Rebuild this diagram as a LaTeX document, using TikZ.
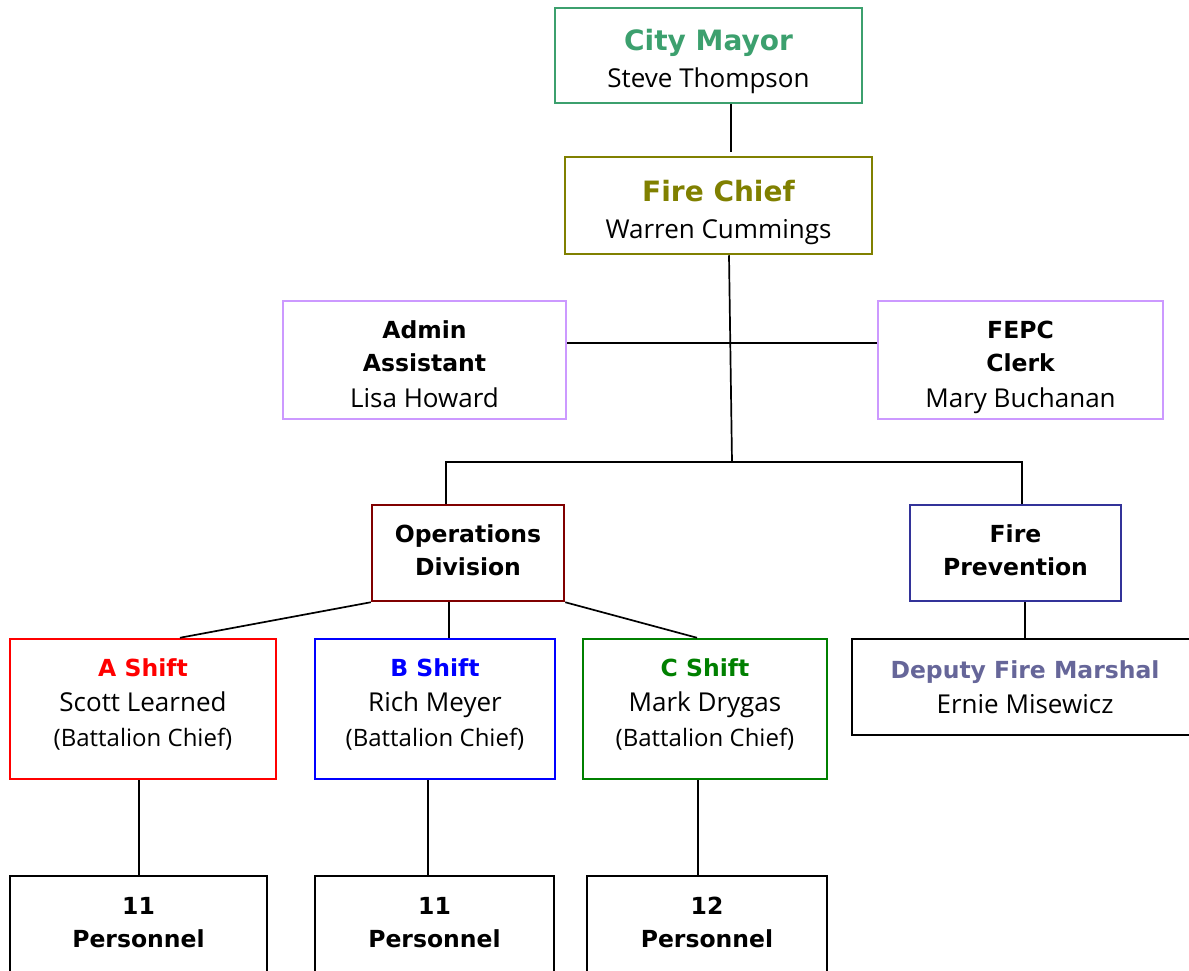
\documentclass[tikz,border=0pt]{standalone}
\usepackage{fontspec}
\setmainfont{DejaVu Sans}
\newfontfamily\namefont{Open Sans}
\definecolor{mayorgreen}{RGB}{60,160,110}
\definecolor{olivec}{RGB}{128,128,0}
\definecolor{lilac}{RGB}{204,153,255}
\definecolor{darkredc}{RGB}{128,0,0}
\definecolor{navyc}{RGB}{51,51,153}
\definecolor{deputyc}{RGB}{102,102,153}
\definecolor{cgreen}{RGB}{0,128,0}
\tikzset{
  box/.style={draw, line width=2.5pt, rectangle, inner sep=0pt, fill=white},
  lbl/.style={align=center, inner sep=0pt},
  conn/.style={line width=1.7pt, black},
  bigf/.style={font=\fontsize{28}{37}\selectfont\bfseries},
  midf/.style={font=\fontsize{23.5}{33}\selectfont\bfseries},
  shiftf/.style={font=\fontsize{23.5}{35}\selectfont\bfseries},
}
\newcommand{\nm}[1]{{\namefont\mdseries\fontsize{26}{33}\selectfont #1}}
\newcommand{\bc}[1]{{\namefont\mdseries\fontsize{24}{35}\selectfont #1}}
\begin{document}
\begin{tikzpicture}[x=1pt,y=-1pt]
\useasboundingbox (0,0) rectangle (1189,970);
\fill[white] (0,0) rectangle (1189,970);
% boxes
\node[box, draw=mayorgreen, minimum width=307pt, minimum height=95pt] (mayor) at (708.5,55.5) {};
\node[box, draw=olivec, minimum width=307pt, minimum height=97pt] (chief) at (718.5,205.5) {};
\node[box, draw=lilac, minimum width=283pt, minimum height=118pt] (admin) at (424.5,360) {};
\node[box, draw=lilac, minimum width=285pt, minimum height=118pt] (fepc) at (1020.5,360) {};
\node[box, draw=darkredc, minimum width=192pt, minimum height=96pt] (ops) at (468,553) {};
\node[box, draw=navyc, minimum width=211pt, minimum height=96pt] (prev) at (1015.5,553) {};
\node[box, draw=red, minimum width=266pt, minimum height=140pt] (ashift) at (143,709) {};
\node[box, draw=blue, minimum width=240pt, minimum height=140pt] (bshift) at (435,709) {};
\node[box, draw=cgreen, minimum width=244pt, minimum height=140pt] (cshift) at (705,709) {};
\node[box, draw=black, minimum width=346pt, minimum height=96pt] (deputy) at (1025,687) {};
\node[box, draw=black, minimum width=257pt, minimum height=106pt] (p1) at (138.5,929) {};
\node[box, draw=black, minimum width=239pt, minimum height=106pt] (p2) at (434.5,929) {};
\node[box, draw=black, minimum width=240pt, minimum height=106pt] (p3) at (707,929) {};
% texts
\node[lbl, bigf] (mayorT) at ([yshift=-5.5pt]mayor.center)
  {\textcolor{mayorgreen}{City Mayor}\\ \nm{Steve Thompson}};
\node[lbl, bigf] (chiefT) at ([yshift=-6.5pt]chief.center)
  {\textcolor{olivec}{Fire Chief}\\ \nm{Warren Cummings}};
\node[lbl, midf] (adminT) at ([yshift=-4.5pt]admin.center)
  {Admin\\ Assistant\\[3pt] \nm{Lisa Howard}};
\node[lbl, midf] (fepcT) at ([yshift=-7pt]fepc.center)
  {FEPC\\ Clerk\\[3pt] \nm{Mary Buchanan}};
\node[lbl, midf] (opsT) at ([yshift=3pt]ops.center) {Operations\\ Division};
\node[lbl, midf] (prevT) at ([yshift=3pt]prev.center) {Fire\\ Prevention};
\node[lbl, shiftf] (ashiftT) at ([yshift=5pt]ashift.center)
  {\textcolor{red}{A Shift}\\ \nm{Scott Learned}\\ \bc{(Battalion Chief)}};
\node[lbl, shiftf] (bshiftT) at ([yshift=5pt]bshift.center)
  {\textcolor{blue}{B Shift}\\ \nm{Rich Meyer}\\ \bc{(Battalion Chief)}};
\node[lbl, shiftf] (cshiftT) at ([yshift=5pt]cshift.center)
  {\textcolor{cgreen}{C Shift}\\ \nm{Mark Drygas}\\ \bc{(Battalion Chief)}};
\node[lbl, shiftf] (deputyT) at ([yshift=0pt]deputy.center)
  {\textcolor{deputyc}{Deputy Fire Marshal}\\ \nm{Ernie Misewicz}};
\node[lbl, midf] (p1T) at ([yshift=6.5pt]p1.center) {11\\ Personnel};
\node[lbl, midf] (p2T) at ([yshift=6.5pt]p2.center) {11\\ Personnel};
\node[lbl, midf] (p3T) at ([yshift=6.5pt]p3.center) {12\\ Personnel};
% helper coordinates
\coordinate (xm) at (731,0);
\coordinate (xct) at (729,0);
\coordinate (hub) at (732,462);
\coordinate (hy) at (0,343);
\coordinate (xops) at (446,0);
\coordinate (xprev) at (1022,0);
\coordinate (xa) at (180,0);
\coordinate (xb) at (449,0);
\coordinate (xc) at (697,0);
\coordinate (xd) at (1025,0);
\coordinate (xp1) at (139,0);
\coordinate (xp2) at (428,0);
\coordinate (xp3) at (698,0);
% connectors
\draw[conn, shorten >=4pt] (mayor.south -| xm) -- (chief.north -| xm);
\draw[conn] (chief.south -| xct) -- (hub);
\draw[conn] (admin.east |- hy) -- (fepc.west |- hy);
\draw[conn] (ops.north -| xops) -- (hub -| xops) -- (hub -| xprev) -- (prev.north -| xprev);
\draw[conn] (ops.south west) -- (ashift.north -| xa);
\draw[conn] (ops.south -| xb) -- (bshift.north -| xb);
\draw[conn] (ops.south east) -- (cshift.north -| xc);
\draw[conn] (prev.south -| xd) -- (deputy.north -| xd);
\draw[conn] (ashift.south -| xp1) -- (p1.north -| xp1);
\draw[conn] (bshift.south -| xp2) -- (p2.north -| xp2);
\draw[conn] (cshift.south -| xp3) -- (p3.north -| xp3);
\end{tikzpicture}
\end{document}
